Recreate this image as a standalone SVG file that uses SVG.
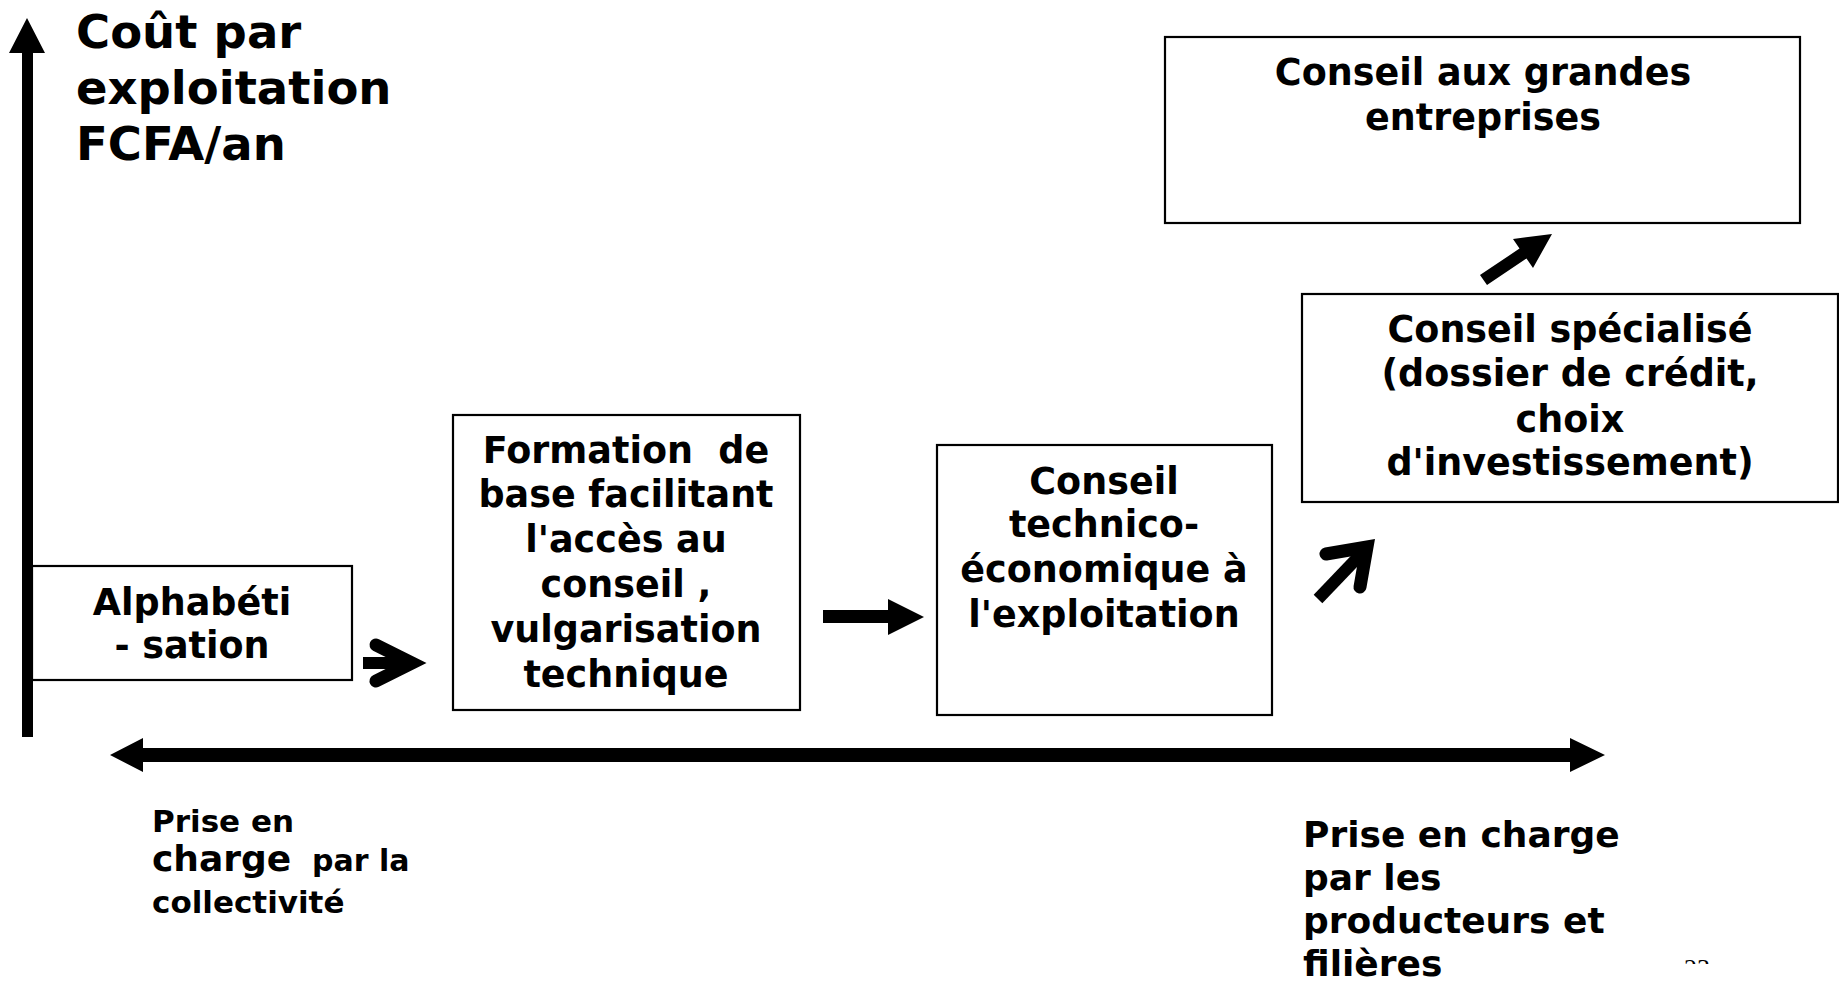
<svg xmlns="http://www.w3.org/2000/svg" width="1839" height="984" viewBox="0 0 1839 984">
<style>
text{font-family:"DejaVu Sans","Verdana",sans-serif;font-weight:bold;fill:#000}
.t{font-size:36.5px;text-anchor:middle}
.title{font-size:46.5px}
.lbl{font-size:36px}
.sm{font-size:31px}
.box{fill:#fff;stroke:#000;stroke-width:2.2}
.chev{fill:none;stroke:#000;stroke-width:13;stroke-linecap:round;stroke-linejoin:miter;stroke-miterlimit:10}
.shaft{fill:none;stroke:#000;stroke-width:12}
</style>
<defs>
<clipPath id="pgclip"><rect x="1600" y="940" width="200" height="24"/></clipPath>
</defs>
<rect width="1839" height="984" fill="#fff"/>

<g id="axes">
<polygon points="22,53 22,737 33,737 33,53 45,53 27,18 9,53"/>
<polygon points="110,755 143,738 143,748 1570,748 1570,738 1605,755 1570,772 1570,762 143,762 143,772"/>
</g>

<g id="title">
<text class="title" x="76" y="48">Coût par</text>
<text class="title" x="76" y="104">exploitation</text>
<text class="title" x="76" y="160">FCFA/an</text>
</g>

<g id="alphabetisation">
<rect class="box" x="32" y="566" width="320" height="114"/>
<text class="t" x="192" y="615">Alphabéti</text>
<text class="t" x="192" y="658">- sation</text>
</g>

<g id="formation">
<rect class="box" x="453" y="415" width="347" height="295"/>
<text class="t" x="626" y="463" xml:space="preserve">Formation  de</text>
<text class="t" x="626" y="507">base facilitant</text>
<text class="t" x="626" y="552">l'accès au</text>
<text class="t" x="626" y="597">conseil ,</text>
<text class="t" x="626" y="642">vulgarisation</text>
<text class="t" x="626" y="687">technique</text>
</g>

<g id="technico">
<rect class="box" x="937" y="445" width="335" height="270"/>
<text class="t" x="1104" y="494">Conseil</text>
<text class="t" x="1104" y="537">technico-</text>
<text class="t" x="1104" y="582">économique à</text>
<text class="t" x="1104" y="627">l'exploitation</text>
</g>

<g id="specialise">
<rect class="box" x="1302" y="294" width="536" height="208"/>
<text class="t" x="1570" y="342">Conseil spécialisé</text>
<text class="t" x="1570" y="386">(dossier de crédit,</text>
<text class="t" x="1570" y="432">choix</text>
<text class="t" x="1570" y="475">d'investissement)</text>
</g>

<g id="grandes">
<rect class="box" x="1165" y="37" width="635" height="186"/>
<text class="t" x="1483" y="85">Conseil aux grandes</text>
<text class="t" x="1483" y="130">entreprises</text>
</g>

<g id="connectors">
<rect x="363" y="657" width="46" height="12"/>
<path class="chev" d="M376,645 L412,663 L376,681"/>
<polygon points="823,610 888,610 888,599 924,617 888,635 888,623 823,623"/>
<path class="shaft" d="M1318,599 L1362,553"/>
<path class="chev" d="M1326,554 L1367,547 L1360,587"/>
<polygon points="1480,275 1519.5,248.6 1513,239 1552,234 1533,268 1526.5,258.4 1487,285"/>
</g>

<g id="labels">
<text class="sm" x="152" y="832">Prise en</text>
<text x="152" y="871"><tspan style="font-size:36px">charge</tspan><tspan style="font-size:30px" xml:space="preserve">  par la</tspan></text>
<text class="sm" x="152" y="913">collectivité</text>
<text class="lbl" x="1303" y="847">Prise en charge</text>
<text class="lbl" x="1303" y="890">par les</text>
<text class="lbl" x="1303" y="933">producteurs et</text>
<text class="lbl" x="1303" y="976">filières</text>
<text clip-path="url(#pgclip)" x="1684" y="977" style="font-family:'Liberation Serif',serif;font-weight:normal;font-size:26px">23</text>
</g>
</svg>
